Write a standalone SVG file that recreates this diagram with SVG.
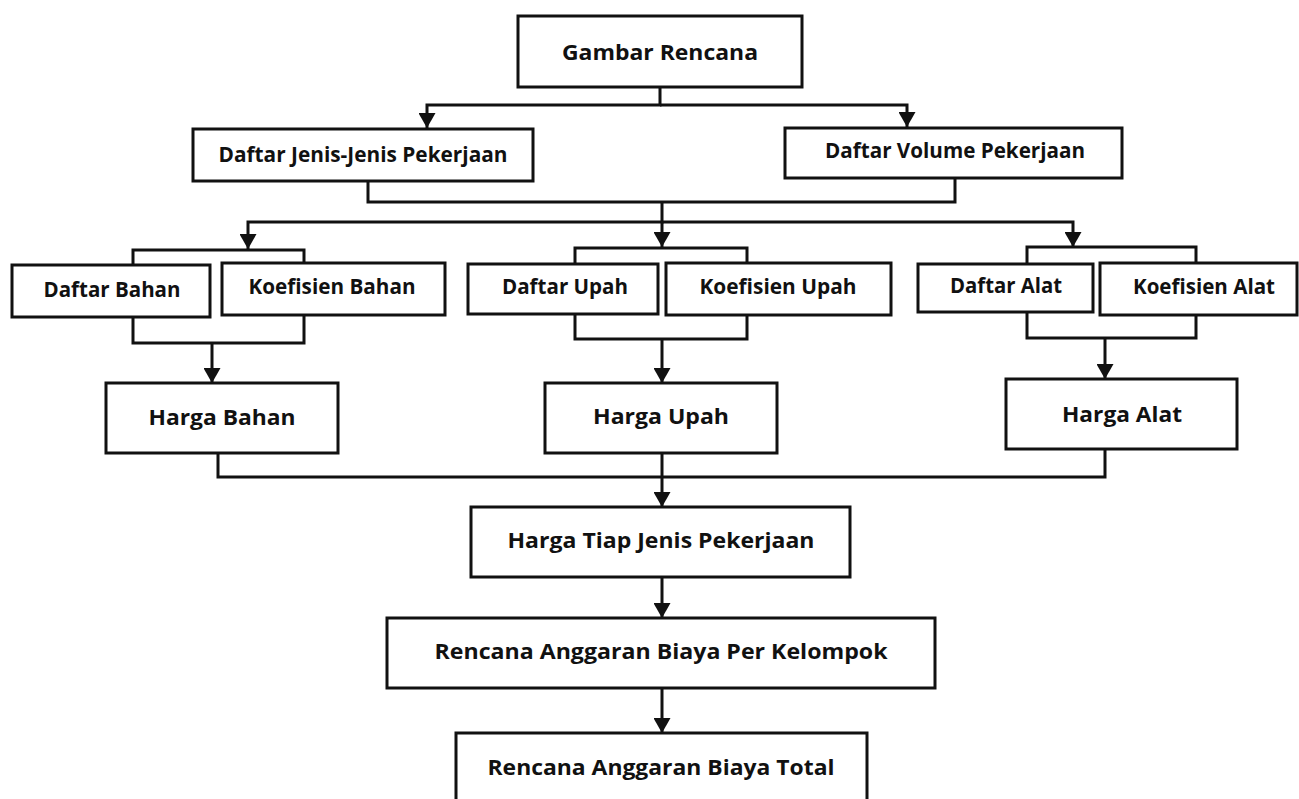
<svg xmlns="http://www.w3.org/2000/svg" width="1299" height="799" viewBox="0 0 1299 799">
<style>
  .box{fill:#fff;stroke:#111;stroke-width:3}
  .lbl{font-family:"Open Sans","Liberation Sans",sans-serif;font-weight:700;font-size:21px;fill:#111;text-anchor:middle}
  .con{fill:none;stroke:#111;stroke-width:3}
</style>
<defs>
  <marker id="arr" viewBox="0 0 15 17" refX="15" refY="8.5" markerWidth="15" markerHeight="17" markerUnits="userSpaceOnUse" orient="auto">
    <path d="M0,0 L15,8.5 L0,17 z" fill="#111"/>
  </marker>
</defs>
<rect width="1299" height="799" fill="#fff"/>
<g id="connectors">
  <path class="con" d="M660,87 V105 H427 V128" marker-end="url(#arr)"/>
  <path class="con" d="M660,105 H907 V127" marker-end="url(#arr)"/>
  <path class="con" d="M368,181 V202 H955 V178"/>
  <path class="con" d="M662,202 V222 H248 V249" marker-end="url(#arr)"/>
  <path class="con" d="M662,222 H1073 V247" marker-end="url(#arr)"/>
  <path class="con" d="M662,222 V247" marker-end="url(#arr)"/>
  <path class="con" d="M133,265 V250 H304 V263"/>
  <path class="con" d="M575,264 V248 H747 V263"/>
  <path class="con" d="M1027,264 V247 H1196 V263"/>
  <path class="con" d="M133,317 V343 H304 V315"/>
  <path class="con" d="M575,314 V339 H747 V315"/>
  <path class="con" d="M1027,312 V338 H1196 V315"/>
  <path class="con" d="M212,343 V383" marker-end="url(#arr)"/>
  <path class="con" d="M662,339 V383" marker-end="url(#arr)"/>
  <path class="con" d="M1105,338 V379" marker-end="url(#arr)"/>
  <path class="con" d="M218,453 V477 H1105 V449"/>
  <path class="con" d="M662,453 V507" marker-end="url(#arr)"/>
  <path class="con" d="M662,577 V618" marker-end="url(#arr)"/>
  <path class="con" d="M662,688 V733" marker-end="url(#arr)"/>
</g>
<g id="gambar-rencana"><rect class="box" x="518" y="16" width="284" height="71"/><text class="lbl" x="660" y="60" textLength="196" lengthAdjust="spacingAndGlyphs">Gambar Rencana</text></g>
<g id="daftar-jenis"><rect class="box" x="193" y="129" width="340" height="52"/><text class="lbl" x="363" y="162" textLength="289" lengthAdjust="spacingAndGlyphs">Daftar Jenis-Jenis Pekerjaan</text></g>
<g id="daftar-volume"><rect class="box" x="785" y="128" width="337" height="50"/><text class="lbl" x="955" y="158" textLength="260" lengthAdjust="spacingAndGlyphs">Daftar Volume Pekerjaan</text></g>
<g id="daftar-bahan"><rect class="box" x="12" y="265" width="198" height="52"/><text class="lbl" x="112" y="297" textLength="137" lengthAdjust="spacingAndGlyphs">Daftar Bahan</text></g>
<g id="koefisien-bahan"><rect class="box" x="222" y="263" width="223" height="52"/><text class="lbl" x="332" y="294" textLength="167" lengthAdjust="spacingAndGlyphs">Koefisien Bahan</text></g>
<g id="daftar-upah"><rect class="box" x="468" y="264" width="190" height="50"/><text class="lbl" x="565" y="294" textLength="126" lengthAdjust="spacingAndGlyphs">Daftar Upah</text></g>
<g id="koefisien-upah"><rect class="box" x="666" y="263" width="225" height="52"/><text class="lbl" x="778" y="294" textLength="157" lengthAdjust="spacingAndGlyphs">Koefisien Upah</text></g>
<g id="daftar-alat"><rect class="box" x="918" y="264" width="175" height="48"/><text class="lbl" x="1006" y="293" textLength="112" lengthAdjust="spacingAndGlyphs">Daftar Alat</text></g>
<g id="koefisien-alat"><rect class="box" x="1100" y="263" width="197" height="52"/><text class="lbl" x="1204" y="294" textLength="142" lengthAdjust="spacingAndGlyphs">Koefisien Alat</text></g>
<g id="harga-bahan"><rect class="box" x="106" y="383" width="232" height="70"/><text class="lbl" x="222" y="425" textLength="147" lengthAdjust="spacingAndGlyphs">Harga Bahan</text></g>
<g id="harga-upah"><rect class="box" x="545" y="383" width="232" height="70"/><text class="lbl" x="661" y="424" textLength="136" lengthAdjust="spacingAndGlyphs">Harga Upah</text></g>
<g id="harga-alat"><rect class="box" x="1006" y="379" width="231" height="70"/><text class="lbl" x="1122" y="422" textLength="120" lengthAdjust="spacingAndGlyphs">Harga Alat</text></g>
<g id="harga-tiap"><rect class="box" x="471" y="507" width="379" height="70"/><text class="lbl" x="661" y="548" textLength="307" lengthAdjust="spacingAndGlyphs">Harga Tiap Jenis Pekerjaan</text></g>
<g id="rab-kelompok"><rect class="box" x="387" y="618" width="548" height="70"/><text class="lbl" x="661" y="659" textLength="453" lengthAdjust="spacingAndGlyphs">Rencana Anggaran Biaya Per Kelompok</text></g>
<g id="rab-total"><rect class="box" x="456" y="733" width="411" height="80"/><text class="lbl" x="661" y="775" textLength="347" lengthAdjust="spacingAndGlyphs">Rencana Anggaran Biaya Total</text></g>
</svg>
